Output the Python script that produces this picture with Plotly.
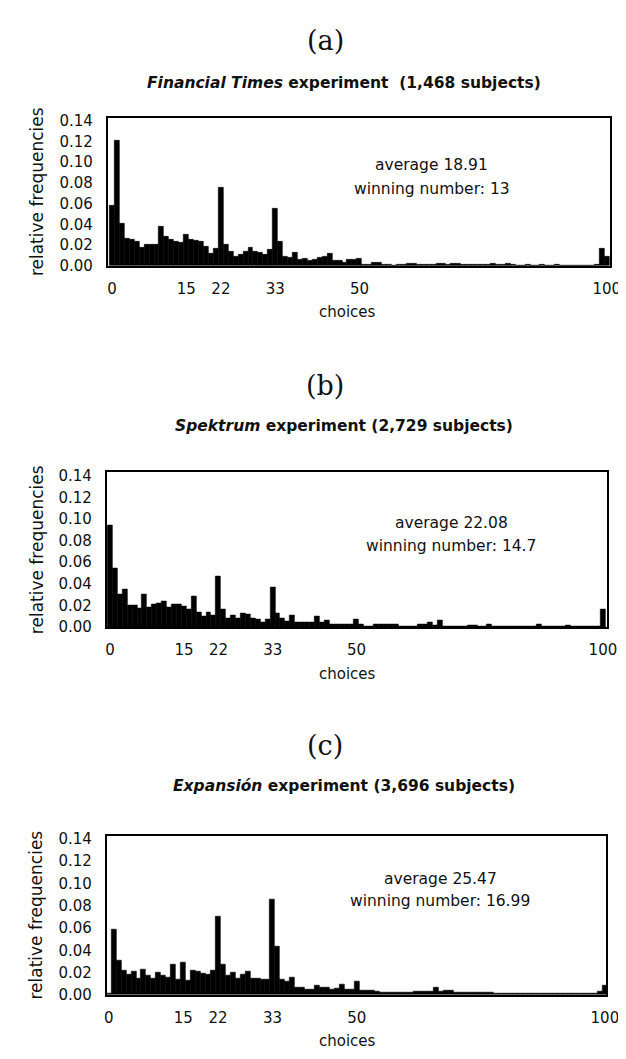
import plotly.graph_objects as go

W, H = 626, 1059

choices = list(range(0, 101))

ft_freq = [
    0.058, 0.121, 0.041, 0.026, 0.025, 0.023, 0.018, 0.020, 0.020, 0.020,
    0.038, 0.028, 0.025, 0.023, 0.022, 0.030, 0.025, 0.024, 0.023, 0.019,
    0.012, 0.017, 0.075, 0.020, 0.014, 0.009, 0.011, 0.014, 0.018, 0.014,
    0.013, 0.011, 0.016, 0.055, 0.023, 0.009, 0.008, 0.013, 0.006, 0.007,
    0.005, 0.006, 0.008, 0.009, 0.012, 0.005, 0.005, 0.003, 0.006, 0.006,
    0.007, 0.001, 0.001, 0.003, 0.003, 0.001, 0.001, 0.0005, 0.001, 0.001,
    0.002, 0.002, 0.001, 0.001, 0.001, 0.001, 0.002, 0.002, 0.001, 0.002,
    0.002, 0.001, 0.001, 0.001, 0.001, 0.001, 0.001, 0.002, 0.001, 0.001,
    0.002, 0.001, 0.0005, 0.0005, 0.001, 0.0005, 0.0005, 0.001, 0.0005, 0.0005,
    0.001, 0.0005, 0.0005, 0.0005, 0.0005, 0.0005, 0.0005, 0.0005, 0.001, 0.017,
    0.009,
]

sp_freq = [
    0.094, 0.054, 0.030, 0.035, 0.020, 0.020, 0.017, 0.030, 0.018, 0.021,
    0.022, 0.024, 0.018, 0.021, 0.021, 0.019, 0.016, 0.028, 0.014, 0.010,
    0.014, 0.011, 0.047, 0.016, 0.008, 0.011, 0.008, 0.013, 0.012, 0.008,
    0.007, 0.004, 0.007, 0.037, 0.013, 0.008, 0.005, 0.011, 0.004, 0.004,
    0.004, 0.004, 0.010, 0.004, 0.006, 0.003, 0.0025, 0.0025, 0.0025, 0.003,
    0.007, 0.0025, 0.001, 0.001, 0.0025, 0.0025, 0.0025, 0.0025, 0.0025, 0.0005,
    0.0005, 0.0005, 0.0005, 0.0025, 0.003, 0.004, 0.002, 0.006, 0.001, 0.001,
    0.001, 0.001, 0.001, 0.002, 0.002, 0.001, 0.001, 0.003, 0.001, 0.001,
    0.001, 0.001, 0.001, 0.001, 0.001, 0.001, 0.001, 0.003, 0.001, 0.001,
    0.001, 0.001, 0.001, 0.0015, 0.0005, 0.0005, 0.0005, 0.0005, 0.0005, 0.0005,
    0.016,
]

ex_freq = [
    0.001, 0.059, 0.031, 0.022, 0.018, 0.021, 0.015, 0.023, 0.017, 0.015,
    0.020, 0.017, 0.016, 0.027, 0.014, 0.029, 0.013, 0.022, 0.021, 0.019,
    0.018, 0.022, 0.070, 0.027, 0.017, 0.020, 0.0145, 0.018, 0.021, 0.015,
    0.0145, 0.014, 0.014, 0.086, 0.0435, 0.014, 0.012, 0.016, 0.007, 0.007,
    0.005, 0.005, 0.008, 0.007, 0.007, 0.005, 0.006, 0.009, 0.005, 0.005,
    0.012, 0.004, 0.004, 0.004, 0.003, 0.002, 0.002, 0.002, 0.002, 0.002,
    0.002, 0.002, 0.003, 0.003, 0.003, 0.003, 0.007, 0.003, 0.004, 0.004,
    0.002, 0.002, 0.002, 0.002, 0.002, 0.002, 0.002, 0.002, 0.0015, 0.0015,
    0.0015, 0.0015, 0.0015, 0.0015, 0.0015, 0.0015, 0.0015, 0.0015, 0.0015, 0.0015,
    0.0015, 0.0015, 0.0015, 0.0015, 0.0015, 0.0015, 0.0015, 0.0015, 0.0015, 0.003,
    0.008,
]

panel_letters = ["(a)", "(b)", "(c)"]
panel_titles = [
    "<b><i>Financial Times</i> experiment  (1,468 subjects)</b>",
    "<b><i>Spektrum</i> experiment (2,729 subjects)</b>",
    "<b><i>Expansión</i> experiment (3,696 subjects)</b>",
]
averages = ["average 18.91", "average 22.08", "average 25.47"]
winners = ["winning number: 13", "winning number: 14.7", "winning number: 16.99"]
xtick_vals = [0, 15, 22, 33, 50, 100]
ytick_vals = [0.00, 0.02, 0.04, 0.06, 0.08, 0.10, 0.12, 0.14]
series = [ft_freq, sp_freq, ex_freq]

# layout geometry in pixels
geom = [
    dict(l=100, r=615, base=255.5, y14=108.3, let_y=27, sub_y=70, ann_x=432, ann_y=(153, 178), xr=(-0.9, 100.7)),
    dict(l=99, r=612, base=622.0, y14=468.3, let_y=377, sub_y=418, ann_x=452, ann_y=(516, 540), xr=(-0.7, 100.9)),
    dict(l=99, r=611, base=995.0, y14=836.7, let_y=742, sub_y=783, ann_x=441, ann_y=(877, 900), xr=(-0.45, 100.3)),
]

YMAX = 0.143
SANS = "DejaVu Sans"
INK = "#111111"


def px_x(p):
    return p / W


def px_y(p):
    return 1 - p / H


fig = go.Figure()
annotations = []
layout_axes = {}

for k, (g, vals) in enumerate(zip(geom, series)):
    idx = "" if k == 0 else str(k + 1)
    scale = (g["base"] - g["y14"]) / 0.14
    top = g["base"] - YMAX * scale
    fig.add_trace(go.Bar(
        x=choices, y=vals, xaxis="x" + idx, yaxis="y" + idx,
        marker=dict(color="black", line=dict(color="black", width=0.6)),
        width=1.0, showlegend=False, hoverinfo="x+y",
    ))
    layout_axes["xaxis" + idx] = dict(
        domain=[px_x(g["l"]), px_x(g["r"])], anchor="y" + idx,
        range=list(g["xr"]), tickmode="array", tickvals=xtick_vals,
        ticktext=[str(v) for v in xtick_vals], ticks="", ticklabelstandoff=8,
        showgrid=False, zeroline=False, showline=True, mirror=True,
        linecolor="black", linewidth=1.6,
        tickfont=dict(family=SANS, size=15, color=INK),
    )
    layout_axes["yaxis" + idx] = dict(
        domain=[px_y(g["base"]), px_y(top)], anchor="x" + idx,
        range=[0, YMAX], tickmode="array", tickvals=ytick_vals,
        ticktext=["%.2f" % v for v in ytick_vals], ticks="", ticklabelstandoff=10,
        showgrid=False, zeroline=False, showline=True, mirror=True,
        linecolor="black", linewidth=1.6,
        tickfont=dict(family=SANS, size=15, color=INK),
    )
    annotations += [
        dict(text=panel_letters[k], x=px_x(323), y=px_y(g["let_y"]), xref="paper", yref="paper",
             showarrow=False, xanchor="center", yanchor="middle",
             font=dict(family="DejaVu Serif", size=27, color=INK)),
        dict(text=panel_titles[k], x=px_x(342), y=px_y(g["sub_y"]), xref="paper", yref="paper",
             showarrow=False, xanchor="center", yanchor="middle",
             font=dict(family=SANS, size=15.5, color=INK)),
        dict(text=averages[k], x=px_x(g["ann_x"]), y=px_y(g["ann_y"][0]), xref="paper", yref="paper",
             showarrow=False, xanchor="center", yanchor="middle",
             font=dict(family=SANS, size=15.5, color=INK)),
        dict(text=winners[k], x=px_x(g["ann_x"]), y=px_y(g["ann_y"][1]), xref="paper", yref="paper",
             showarrow=False, xanchor="center", yanchor="middle",
             font=dict(family=SANS, size=15.5, color=INK)),
        dict(text="relative frequencies", x=px_x(27), y=px_y((g["base"] + top) / 2), xref="paper", yref="paper",
             showarrow=False, xanchor="center", yanchor="middle", textangle=-90,
             font=dict(family=SANS, size=17, color=INK)),
        dict(text="choices", x=px_x(346), y=px_y(g["base"] + 47), xref="paper", yref="paper",
             showarrow=False, xanchor="center", yanchor="middle",
             font=dict(family=SANS, size=15, color=INK)),
    ]

fig.update_layout(
    width=W, height=H, margin=dict(l=0, r=0, t=0, b=0),
    paper_bgcolor="white", plot_bgcolor="white",
    bargap=0, annotations=annotations, **layout_axes,
)

fig.write_html("out.html")
